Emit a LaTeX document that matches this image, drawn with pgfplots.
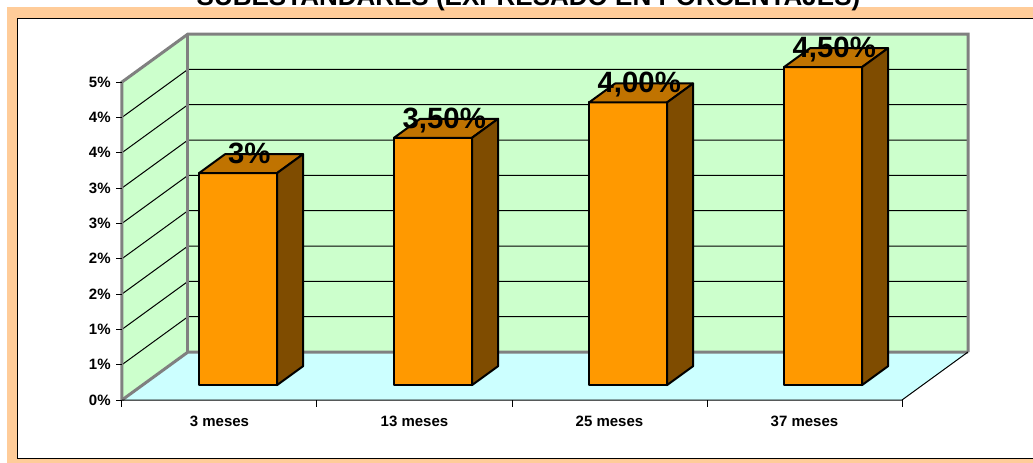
\documentclass[border=0pt]{standalone}
\usepackage{pgfplots}
\pgfplotsset{compat=1.18}
\usepackage{fontspec}
\setmainfont{Liberation Sans}
\definecolor{peach}{HTML}{FFCC99}
\definecolor{wallgreen}{HTML}{CCFFCC}
\definecolor{floorcyan}{HTML}{CCFFFF}
\definecolor{barfront}{HTML}{FF9900}
\definecolor{bartop}{HTML}{C07300}
\definecolor{barside}{HTML}{7F4C00}
\definecolor{edgegray}{HTML}{808080}
% 3-D bar: #1 left x, #2 right x, #3 value, #4 label
\newcommand\tdbar[4]{%
  \addplot3[fill=barfront, draw=black, line width=1.5pt, line join=round, mark=none]
    coordinates {(#1,0.31,0) (#2,0.31,0) (#2,0.31,#3) (#1,0.31,#3)} -- cycle;
  \addplot3[fill=bartop, draw=black, line width=1.5pt, line join=round, mark=none]
    coordinates {(#1,0.31,#3) (#2,0.31,#3) (#2,0.705,#3) (#1,0.705,#3)} -- cycle;
  \addplot3[fill=barside, draw=black, line width=1.5pt, line join=round, mark=none]
    coordinates {(#2,0.31,0) (#2,0.705,0) (#2,0.705,#3) (#2,0.31,#3)} -- cycle;
  \node[anchor=base, inner sep=0pt, font=\fontsize{22}{24}\selectfont\bfseries]
    at (axis cs:{(#1+#2)/2-0.01},0.51,#3) {#4};
}
\begin{document}
\begin{tikzpicture}
\fill[peach] (-86.25pt,-60pt) rectangle (700pt,294.75pt);
\filldraw[fill=white,draw=black,line width=0.75pt] (-78pt,-43.5pt) rectangle (710pt,286.5pt);
\node[anchor=base,inner sep=0pt,font=\fontsize{19.5}{22}\selectfont\bfseries] at (304.9pt,295.7pt) {SUBESTANDARES (EXPRESADO EN PORCENTAJES)};
\begin{axis}[
  anchor=origin, at={(0pt,0pt)},
  x={(146.25pt,0pt)}, y={(49.5pt,36pt)}, z={(0pt,53pt)},
  xmin=0, xmax=4, ymin=0, ymax=1, zmin=0, zmax=4.5,
  hide axis, clip=false,
]
% walls and floor
\addplot3[fill=floorcyan, draw=none, mark=none] coordinates {(0,0,0) (4,0,0) (4,1,0) (0,1,0)} -- cycle;
\addplot3[fill=wallgreen, draw=none, mark=none] coordinates {(0,0,0) (0,1,0) (0,1,4.5) (0,0,4.5)} -- cycle;
\addplot3[fill=wallgreen, draw=none, mark=none] coordinates {(0,1,0) (4,1,0) (4,1,4.5) (0,1,4.5)} -- cycle;
% gridlines
\pgfplotsinvokeforeach{0.5,1,1.5,2,2.5,3,3.5,4}{
  \addplot3[black, line width=0.75pt, mark=none] coordinates {(0,0,#1) (0,1,#1) (4,1,#1)};
}
% wall edges
\addplot3[edgegray, line width=2.25pt, mark=none] coordinates {(0,0,0) (0,0,4.5) (0,1,4.5) (4,1,4.5) (4,1,0)};
\addplot3[edgegray, line width=2.25pt, mark=none] coordinates {(0,0,0) (0,1,0) (4,1,0)};
\addplot3[edgegray, line width=2.25pt, mark=none] coordinates {(0,1,0) (0,1,4.5)};
% floor front and right edges
\addplot3[black, line width=0.75pt, mark=none] coordinates {(0,0,0) (4,0,0) (4,1,0)};
% y ticks
\pgfplotsinvokeforeach{0,0.5,1,1.5,2,2.5,3,3.5,4,4.5}{
  \draw[black, line width=0.75pt] (axis cs:0,0,#1) -- ++(-4.5pt,0pt);
}
\node[anchor=east,font=\fontsize{11.25}{13}\selectfont\bfseries] at ([xshift=-5pt]axis cs:0,0,0) {0\%};
\node[anchor=east,font=\fontsize{11.25}{13}\selectfont\bfseries] at ([xshift=-5pt]axis cs:0,0,0.5) {1\%};
\node[anchor=east,font=\fontsize{11.25}{13}\selectfont\bfseries] at ([xshift=-5pt]axis cs:0,0,1) {1\%};
\node[anchor=east,font=\fontsize{11.25}{13}\selectfont\bfseries] at ([xshift=-5pt]axis cs:0,0,1.5) {2\%};
\node[anchor=east,font=\fontsize{11.25}{13}\selectfont\bfseries] at ([xshift=-5pt]axis cs:0,0,2) {2\%};
\node[anchor=east,font=\fontsize{11.25}{13}\selectfont\bfseries] at ([xshift=-5pt]axis cs:0,0,2.5) {3\%};
\node[anchor=east,font=\fontsize{11.25}{13}\selectfont\bfseries] at ([xshift=-5pt]axis cs:0,0,3) {3\%};
\node[anchor=east,font=\fontsize{11.25}{13}\selectfont\bfseries] at ([xshift=-5pt]axis cs:0,0,3.5) {4\%};
\node[anchor=east,font=\fontsize{11.25}{13}\selectfont\bfseries] at ([xshift=-5pt]axis cs:0,0,4) {4\%};
\node[anchor=east,font=\fontsize{11.25}{13}\selectfont\bfseries] at ([xshift=-5pt]axis cs:0,0,4.5) {5\%};
% x ticks
\pgfplotsinvokeforeach{0,1,2,3,4}{
  \draw[black, line width=0.75pt] (axis cs:#1,0,0) -- ++(0pt,-5.25pt);
}
\node[font=\fontsize{11.25}{13}\selectfont\bfseries] at ([yshift=-16pt]axis cs:0.5,0,0) {3 meses};
\node[font=\fontsize{11.25}{13}\selectfont\bfseries] at ([yshift=-16pt]axis cs:1.5,0,0) {13 meses};
\node[font=\fontsize{11.25}{13}\selectfont\bfseries] at ([yshift=-16pt]axis cs:2.5,0,0) {25 meses};
\node[font=\fontsize{11.25}{13}\selectfont\bfseries] at ([yshift=-16pt]axis cs:3.5,0,0) {37 meses};
% bars
\tdbar{0.29}{0.69}{3}{3\%}
\tdbar{1.29}{1.69}{3.5}{3,50\%}
\tdbar{2.29}{2.69}{4}{4,00\%}
\tdbar{3.29}{3.69}{4.5}{4,50\%}
\end{axis}
\pgfresetboundingbox
\path[use as bounding box] (-91.5pt,-46.5pt) rectangle (683.25pt,300pt);
\end{tikzpicture}
\end{document}
